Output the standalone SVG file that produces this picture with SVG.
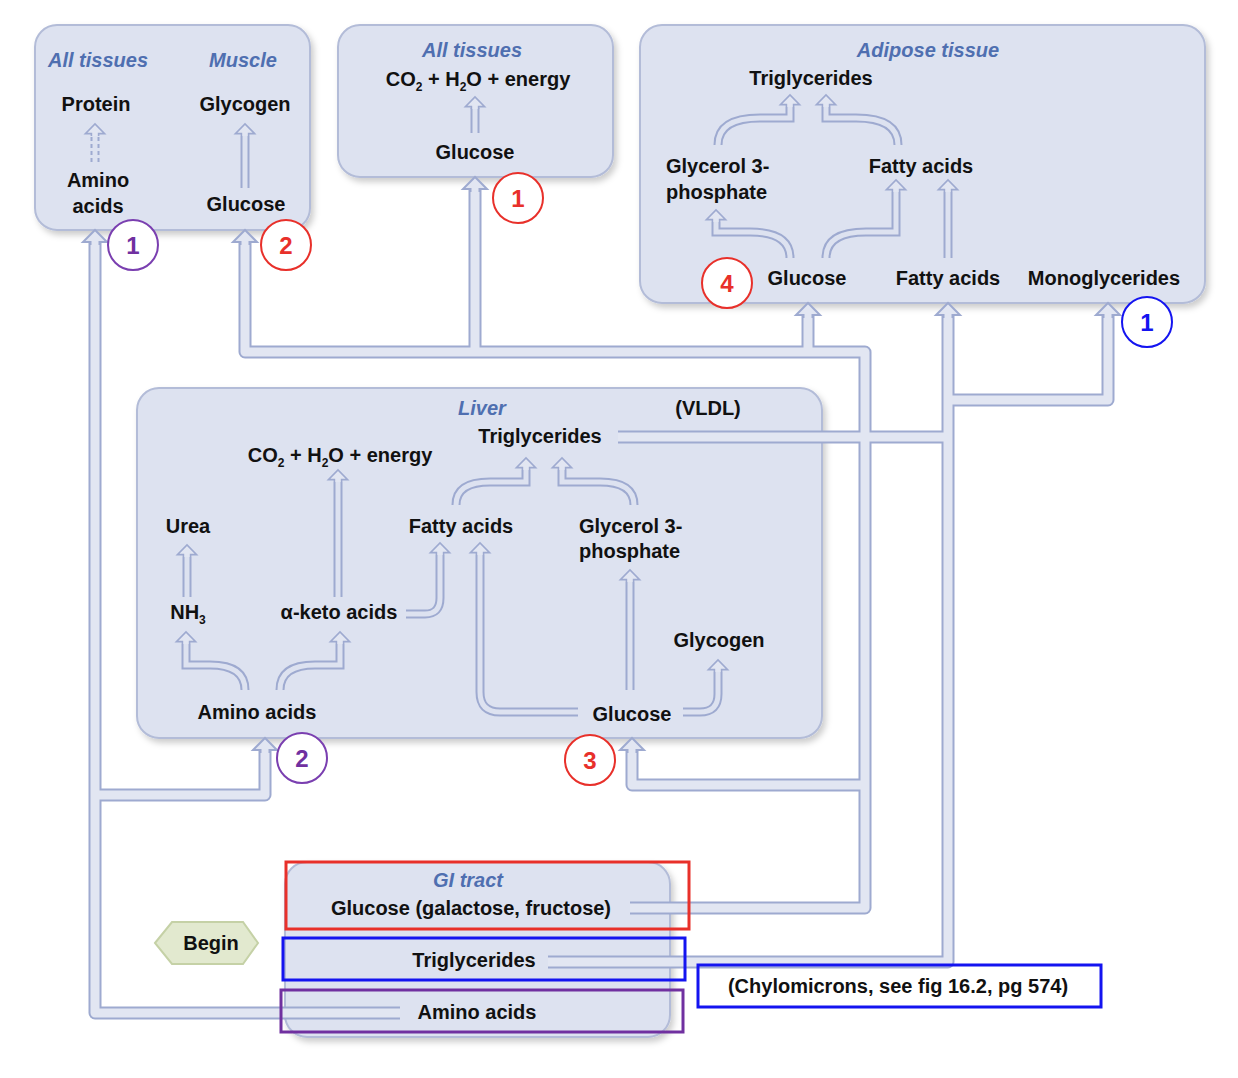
<svg xmlns="http://www.w3.org/2000/svg" xmlns:xlink="http://www.w3.org/1999/xlink" width="1238" height="1078" viewBox="0 0 1238 1078">
<style>
.box{fill:#dde2f0;stroke:#b3bcd8;stroke-width:2}
.po{fill:none;stroke:#9eaad0;stroke-width:13;stroke-linejoin:round}
.pi{fill:none;stroke:#e2e6f2;stroke-width:9;stroke-linejoin:round}
.io{fill:none;stroke:#9eaad0;stroke-width:9}
.ii{fill:none;stroke:#dde2f0;stroke-width:5}
text{font-family:"Liberation Sans",Arial,sans-serif;font-weight:bold;font-size:20px;fill:#111}
.lb{font-style:italic;fill:#4f6fb0}
.n{font-size:24px;text-anchor:middle}
.c{text-anchor:middle}
</style>
<defs>
<filter id="sh" x="-10%" y="-10%" width="120%" height="120%"><feDropShadow dx="3" dy="4" stdDeviation="3" flood-color="#000" flood-opacity="0.2"/></filter>
<path id="ah" d="M-4.5,15 L-4.5,12 L-12,12 L0,0 L12,12 L4.5,12 L4.5,15" fill="#e2e6f2" stroke="#9eaad0" stroke-width="2"/>
</defs>
<g id="nodes" filter="url(#sh)">
<rect id="allmuscle" class="box" x="35" y="25" width="275" height="205" rx="22"/>
<rect id="alltissues" class="box" x="338" y="25" width="275" height="152" rx="22"/>
<rect id="adipose" class="box" x="640" y="25" width="565" height="278" rx="22"/>
<rect id="liver" class="box" x="137" y="388" width="685" height="350" rx="22"/>
<rect id="gi" class="box" x="285" y="862" width="385" height="175" rx="22"/>
</g>
<g id="connectors">
<g class="outer">
<path class="po" d="M400,1013 H95 V236"/>
<path class="po" d="M95,795 H265 V744"/>
<path class="po" d="M630,908 H865 V352 H245 V236"/>
<path class="po" d="M475,352 V183"/>
<path class="po" d="M808,352 V309"/>
<path class="po" d="M865,785 H632 V744"/>
<path class="po" d="M548,962 H948 V309"/>
<path class="po" d="M948,400 H1108 V309"/>
<path class="po" d="M618,437 H948"/>
</g>
<g>
<path class="pi" d="M400,1013 H95 V236"/>
<path class="pi" d="M95,795 H265 V744"/>
<path class="pi" d="M630,908 H865 V352 H245 V236"/>
<path class="pi" d="M475,352 V183"/>
<path class="pi" d="M808,352 V309"/>
<path class="pi" d="M865,785 H632 V744"/>
<path class="pi" d="M548,962 H948 V309"/>
<path class="pi" d="M948,400 H1108 V309"/>
<path class="pi" d="M618,437 H948"/>
</g>
<use href="#ah" x="95" y="230"/><use href="#ah" x="245" y="230"/><use href="#ah" x="475" y="177"/>
<use href="#ah" x="808" y="303"/><use href="#ah" x="948" y="303"/><use href="#ah" x="1108" y="303"/>
<use href="#ah" x="265" y="738"/><use href="#ah" x="632" y="738"/>
<g id="inner">
<path class="io" d="M95,162 V136" stroke-dasharray="4,3"/><path class="ii" d="M95,162 V136"/>
<path class="io" d="M245,188 V136"/><path class="ii" d="M245,188 V136"/>
<path class="io" d="M475,133 V108"/><path class="ii" d="M475,133 V108"/>
<path class="io" d="M718,145 Q718,118 760,118 H790 V107"/><path class="ii" d="M718,145 Q718,118 760,118 H790 V107"/>
<path class="io" d="M898,145 Q898,118 856,118 H826 V107"/><path class="ii" d="M898,145 Q898,118 856,118 H826 V107"/>
<path class="io" d="M790,258 Q790,232 750,232 H716 V222"/><path class="ii" d="M790,258 Q790,232 750,232 H716 V222"/>
<path class="io" d="M826,258 Q826,232 866,232 H896 V192"/><path class="ii" d="M826,258 Q826,232 866,232 H896 V192"/>
<path class="io" d="M948,258 V192"/><path class="ii" d="M948,258 V192"/>
<path class="io" d="M187,597 V557"/><path class="ii" d="M187,597 V557"/>
<path class="io" d="M245,690 Q245,665 210,665 H186 V644"/><path class="ii" d="M245,690 Q245,665 210,665 H186 V644"/>
<path class="io" d="M280,690 Q280,665 315,665 H340 V644"/><path class="ii" d="M280,690 Q280,665 315,665 H340 V644"/>
<path class="io" d="M338,597 V482"/><path class="ii" d="M338,597 V482"/>
<path class="io" d="M406,614 H425 Q440,614 440,598 V555"/><path class="ii" d="M406,614 H425 Q440,614 440,598 V555"/>
<path class="io" d="M578,712 H500 Q480,712 480,692 V555"/><path class="ii" d="M578,712 H500 Q480,712 480,692 V555"/>
<path class="io" d="M630,690 V582"/><path class="ii" d="M630,690 V582"/>
<path class="io" d="M683,712 H700 Q718,712 718,694 V672"/><path class="ii" d="M683,712 H700 Q718,712 718,694 V672"/>
<path class="io" d="M456,505 Q456,482 490,482 H526 V470"/><path class="ii" d="M456,505 Q456,482 490,482 H526 V470"/>
<path class="io" d="M634,505 Q634,482 600,482 H562 V470"/><path class="ii" d="M634,505 Q634,482 600,482 H562 V470"/>
</g>
<g>
<use href="#ah" transform="translate(95,124) scale(0.8)"/>
<use href="#ah" transform="translate(245,124) scale(0.8)"/>
<use href="#ah" transform="translate(475,97) scale(0.8)"/>
<use href="#ah" transform="translate(790,95) scale(0.8)"/>
<use href="#ah" transform="translate(826,95) scale(0.8)"/>
<use href="#ah" transform="translate(716,210) scale(0.8)"/>
<use href="#ah" transform="translate(896,180) scale(0.8)"/>
<use href="#ah" transform="translate(948,180) scale(0.8)"/>
<use href="#ah" transform="translate(187,545) scale(0.8)"/>
<use href="#ah" transform="translate(186,632) scale(0.8)"/>
<use href="#ah" transform="translate(340,632) scale(0.8)"/>
<use href="#ah" transform="translate(338,470) scale(0.8)"/>
<use href="#ah" transform="translate(440,543) scale(0.8)"/>
<use href="#ah" transform="translate(480,543) scale(0.8)"/>
<use href="#ah" transform="translate(630,570) scale(0.8)"/>
<use href="#ah" transform="translate(718,660) scale(0.8)"/>
<use href="#ah" transform="translate(526,458) scale(0.8)"/>
<use href="#ah" transform="translate(562,458) scale(0.8)"/>
</g>
</g>
<g id="labels">
<text class="lb c" x="98" y="67">All tissues</text>
<text class="lb c" x="243" y="67">Muscle</text>
<text class="c" x="96" y="111">Protein</text>
<text class="c" x="245" y="111">Glycogen</text>
<text class="c" x="98" y="187">Amino</text>
<text class="c" x="98" y="213">acids</text>
<text class="c" x="246" y="211">Glucose</text>
<text class="lb c" x="472" y="57">All tissues</text>
<text class="c" x="478" y="86">CO<tspan font-size="12" dy="5">2</tspan><tspan dy="-5"> + H</tspan><tspan font-size="12" dy="5">2</tspan><tspan dy="-5">O + energy</tspan></text>
<text class="c" x="475" y="159">Glucose</text>
<text class="lb c" x="928" y="57">Adipose tissue</text>
<text class="c" x="811" y="85">Triglycerides</text>
<text x="666" y="173">Glycerol 3-</text>
<text x="666" y="199">phosphate</text>
<text class="c" x="921" y="173">Fatty acids</text>
<text class="c" x="807" y="285">Glucose</text>
<text class="c" x="948" y="285">Fatty acids</text>
<text class="c" x="1104" y="285">Monoglycerides</text>
<text class="lb c" x="482" y="415">Liver</text>
<text class="c" x="708" y="415">(VLDL)</text>
<text class="c" x="540" y="443">Triglycerides</text>
<text class="c" x="340" y="462">CO<tspan font-size="12" dy="5">2</tspan><tspan dy="-5"> + H</tspan><tspan font-size="12" dy="5">2</tspan><tspan dy="-5">O + energy</tspan></text>
<text class="c" x="188" y="533">Urea</text>
<text class="c" x="461" y="533">Fatty acids</text>
<text x="579" y="533">Glycerol 3-</text>
<text x="579" y="558">phosphate</text>
<text class="c" x="188" y="619">NH<tspan font-size="12" dy="5">3</tspan></text>
<text class="c" x="339" y="619">α-keto acids</text>
<text class="c" x="719" y="647">Glycogen</text>
<text class="c" x="257" y="719">Amino acids</text>
<text class="c" x="632" y="721">Glucose</text>
<text class="lb c" x="468" y="887">GI tract</text>
<text class="c" x="471" y="915">Glucose (galactose, fructose)</text>
<text class="c" x="474" y="967">Triglycerides</text>
<text class="c" x="477" y="1019">Amino acids</text>
<text class="c" x="898" y="993">(Chylomicrons, see fig 16.2, pg 574)</text>
</g>
<g id="begin">
<polygon points="155,943 172,922 243,922 258,943 243,964 172,964" fill="#e2e9cf" stroke="#c5d1a6" stroke-width="2"/>
<text class="c" x="211" y="950">Begin</text>
</g>
<g id="highlights" fill="none" stroke-width="3">
<rect x="286" y="862" width="403" height="67" stroke="#e8302a"/>
<rect x="283" y="938" width="402" height="42" stroke="#1414f0"/>
<rect x="281" y="990" width="402" height="42" stroke="#7030a0"/>
<rect x="698" y="965" width="403" height="42" stroke="#1414f0"/>
</g>
<g id="badges" stroke-width="2">
<circle cx="133" cy="245" r="25" fill="#fff" stroke="#7a3fb0"/><text class="n" x="133" y="254" style="fill:#7030a0">1</text>
<circle cx="286" cy="245" r="25" fill="#fff" stroke="#e8302a"/><text class="n" x="286" y="254" style="fill:#e8302a">2</text>
<circle cx="518" cy="198" r="25" fill="#fff" stroke="#e8302a"/><text class="n" x="518" y="207" style="fill:#e8302a">1</text>
<circle cx="727" cy="283" r="25" fill="#fff" stroke="#e8302a"/><text class="n" x="727" y="292" style="fill:#e8302a">4</text>
<circle cx="1147" cy="322" r="25" fill="#fff" stroke="#1414f0"/><text class="n" x="1147" y="331" style="fill:#1414f0">1</text>
<circle cx="302" cy="758" r="25" fill="#fff" stroke="#7a3fb0"/><text class="n" x="302" y="767" style="fill:#7030a0">2</text>
<circle cx="590" cy="760" r="25" fill="#fff" stroke="#e8302a"/><text class="n" x="590" y="769" style="fill:#e8302a">3</text>
</g>
</svg>
